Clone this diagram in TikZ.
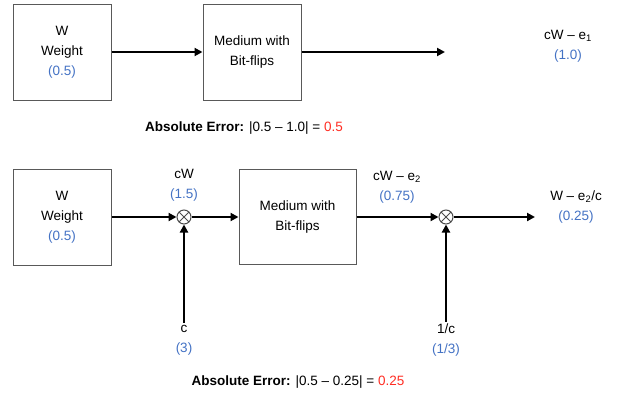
\documentclass[tikz,border=0pt]{standalone}
\usepackage{fontspec}
\setmainfont{Liberation Sans}
\usetikzlibrary{arrows.meta}
\definecolor{vblue}{RGB}{68,114,196}
\definecolor{vred}{RGB}{255,45,35}
\begin{document}
\begin{tikzpicture}[x=1pt,y=-1pt,
  blk/.style={draw=black!65, line width=1pt, inner sep=0pt, align=center,
    font=\fontsize{13.5}{20}\selectfont},
  lbl/.style={align=center, inner sep=2pt, font=\fontsize{13.5}{20}\selectfont},
  arr/.style={line width=2.5pt, -{Triangle[length=8pt,width=8pt]}},
  mult/.style={circle, draw=black!70, line width=1pt, minimum size=14pt, inner sep=0pt,
    path picture={\draw[black!70, line width=1pt]
      (path picture bounding box.north west) -- (path picture bounding box.south east)
      (path picture bounding box.north east) -- (path picture bounding box.south west);}}]
\useasboundingbox (0,0) rectangle (620,394);
% top row
\node[blk, minimum width=98pt, minimum height=96pt] (w1) at (62,52) {W\\Weight\\\textcolor{vblue}{(0.5)}};
\node[blk, minimum width=98pt, minimum height=96pt] (m1) at (252,52) {Medium with\\Bit-flips};
\coordinate (o1) at (445,52);
\node[lbl] (l1) at (568,46) {cW – e\textsubscript{1}\\\textcolor{vblue}{(1.0)}};
\draw[arr] (w1.east) -- (m1.west);
\draw[arr] (m1.east) -- (o1);
\node[lbl] (ae1) at (244,128) {\textbf{Absolute Error:} |0.5 – 1.0| = \textcolor{vred}{0.5}};
% bottom row
\node[blk, minimum width=98pt, minimum height=96pt] (w2) at (62,217) {W\\Weight\\\textcolor{vblue}{(0.5)}};
\node[mult] (x1) at (184,217) {};
\node[blk, minimum width=117pt, minimum height=95pt] (m2) at (297.5,217) {Medium with\\Bit-flips};
\node[mult] (x2) at (446,217) {};
\coordinate (o2) at (535,217);
\node[lbl] (lcw) at (184,185) {cW\\\textcolor{vblue}{(1.5)}};
\node[lbl] (le2) at (397,187) {cW – e\textsubscript{2}\\\textcolor{vblue}{(0.75)}};
\node[lbl] (lout) at (576,207) {W – e\textsubscript{2}/c\\\textcolor{vblue}{(0.25)}};
\node[lbl] (c) at (184,340) {c\\\textcolor{vblue}{(3)}};
\node[lbl] (ic) at (446,340) {1/c\\\textcolor{vblue}{(1/3)}};
\draw[arr] (w2.east) -- (x1.west);
\draw[arr] (x1.east) -- (m2.west);
\draw[arr] (m2.east) -- (x2.west);
\draw[arr] (x2.east) -- (o2);
\draw[arr] (c.north) -- (x1.south);
\draw[arr] (ic.north) -- (x2.south);
\node[lbl] (ae2) at (298,382) {\textbf{Absolute Error:} |0.5 – 0.25| = \textcolor{vred}{0.25}};
\end{tikzpicture}
\end{document}
